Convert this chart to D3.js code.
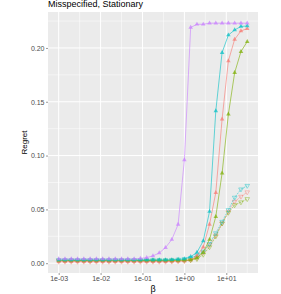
<!DOCTYPE html>
<html lang="en">
<head>
<meta charset="utf-8">
<title>Regret</title>
<script src="https://cdn.jsdelivr.net/npm/d3@7"></script>
<style>
  body { margin: 0; background: #fff; }
  text { font-family: "Liberation Sans", Arial, sans-serif; }
</style>
</head>
<body>
<script>
// beta grid: 31 log-spaced points, 1e-03 .. ~31.6
var betaExp = d3.range(31).map(function(i){ return -3 + 0.15 * i; });
var beta = betaExp.map(function(e){ return Math.pow(10, e); });

// solid curves (filled up triangles)
var redHi = [0.0015,0.0015,0.0015,0.0015,0.0015,0.0015,0.0015,0.0015,0.0015,0.0015,0.0015,0.0015,0.0015,0.0015,0.0015,0.0015,0.0015,0.0015,0.0016,0.0018,0.002,0.003,0.007,0.015,0.036,0.0656,0.1338,0.188,0.208,0.2158,0.218];
var greenHi = [0.0025,0.0025,0.0025,0.0025,0.0025,0.0025,0.0025,0.0025,0.0025,0.0025,0.0025,0.0025,0.0025,0.0025,0.0025,0.0025,0.0025,0.0025,0.0025,0.0026,0.0027,0.003,0.005,0.01,0.022,0.0433,0.0836,0.1384,0.177,0.1966,0.2059];
var cyanHi = [0.003,0.003,0.003,0.003,0.003,0.003,0.003,0.003,0.003,0.003,0.003,0.003,0.003,0.003,0.003,0.003,0.003,0.003,0.0032,0.0035,0.004,0.006,0.01,0.0207,0.048,0.1415,0.1957,0.212,0.2167,0.22,0.2204];
var purpleHi = [0.004,0.004,0.004,0.004,0.004,0.004,0.004,0.004,0.004,0.004,0.004,0.004,0.004,0.0045,0.0052,0.0068,0.0095,0.0145,0.022,0.036,0.096,0.219,0.222,0.222,0.223,0.223,0.223,0.223,0.223,0.223,0.223];

// lower curves (open down triangles)
var redLo = [0.0015,0.0015,0.0015,0.0015,0.0015,0.0015,0.0015,0.0015,0.0015,0.0015,0.0015,0.0015,0.0015,0.0015,0.0015,0.0015,0.0015,0.0015,0.0016,0.0018,0.002,0.003,0.005,0.01,0.017,0.026,0.037,0.048,0.0572,0.0619,0.066];
var greenLo = [0.0025,0.0025,0.0025,0.0025,0.0025,0.0025,0.0025,0.0025,0.0025,0.0025,0.0025,0.0025,0.0025,0.0025,0.0025,0.0025,0.0025,0.0025,0.0025,0.0026,0.0027,0.003,0.004,0.008,0.015,0.025,0.037,0.047,0.054,0.0567,0.0597];
var cyanLo = [0.003,0.003,0.003,0.003,0.003,0.003,0.003,0.003,0.003,0.003,0.003,0.003,0.003,0.003,0.003,0.003,0.003,0.003,0.0032,0.0035,0.004,0.005,0.007,0.011,0.018,0.028,0.0386,0.0495,0.061,0.0687,0.072];

var xTicks = [1e-3, 1e-2, 1e-1, 1e0, 1e1];
var xTickLabels = ["1e-03", "1e-02", "1e-01", "1e+00", "1e+01"];
var yTicks = [0, 0.05, 0.10, 0.15, 0.20];

var series = [
  {name: "red lo", col: "#F8766D", vals: redLo, lo: true},
  {name: "green lo", col: "#7CAE00", vals: greenLo, lo: true},
  {name: "cyan lo", col: "#00BFC4", vals: cyanLo, lo: true},
  {name: "red hi", col: "#F8766D", vals: redHi, lo: false},
  {name: "green hi", col: "#7CAE00", vals: greenHi, lo: false},
  {name: "cyan hi", col: "#00BFC4", vals: cyanHi, lo: false},
  {name: "purple hi", col: "#C77CFF", vals: purpleHi, lo: false}
];

var W = 281, H = 294;
// panel edges (don't use "top", it's window.top)
var pL = 48, pR = 258, pT = 12, pB = 273;

var svg = d3.select("body").append("svg")
            .attr("width", W)
            .attr("height", H);

var x = d3.scaleLog().domain([Math.pow(10, -3.255), Math.pow(10, 1.757)]).range([pL, pR]);
var y = d3.scaleLinear().domain([-0.0091, 0.2334]).range([pB, pT]);

// panel
svg.append("rect")
   .attr("x", pL).attr("y", pT)
   .attr("width", pR - pL).attr("height", pB - pT)
   .attr("fill", "#EBEBEB");

// minor grid
var xMinor = [-2.5, -1.5, -0.5, 0.5, 1.5].map(function(e){ return Math.pow(10, e); });
var yMinor = [0.025, 0.075, 0.125, 0.175, 0.225];
svg.selectAll("line.xmin").data(xMinor).enter().append("line")
   .attr("x1", function(d){ return x(d); }).attr("x2", function(d){ return x(d); })
   .attr("y1", pT).attr("y2", pB)
   .attr("stroke", "#fff").attr("stroke-width", 0.5);
svg.selectAll("line.ymin").data(yMinor).enter().append("line")
   .attr("y1", function(d){ return y(d); }).attr("y2", function(d){ return y(d); })
   .attr("x1", pL).attr("x2", pR)
   .attr("stroke", "#fff").attr("stroke-width", 0.5);

// major grid
svg.selectAll("line.xmaj").data(xTicks).enter().append("line")
   .attr("x1", function(d){ return x(d); }).attr("x2", function(d){ return x(d); })
   .attr("y1", pT).attr("y2", pB)
   .attr("stroke", "#fff").attr("stroke-width", 1);
svg.selectAll("line.ymaj").data(yTicks).enter().append("line")
   .attr("y1", function(d){ return y(d); }).attr("y2", function(d){ return y(d); })
   .attr("x1", pL).attr("x2", pR)
   .attr("stroke", "#fff").attr("stroke-width", 1);

// axes
var xAxis = d3.axisBottom(x).tickValues(xTicks)
              .tickFormat(function(d, i){ return xTickLabels[i]; })
              .tickSize(2).tickPadding(1.5);
var yAxis = d3.axisLeft(y).tickValues(yTicks)
              .tickFormat(d3.format(".2f"))
              .tickSize(2).tickPadding(1.5);

var gx = svg.append("g").attr("transform", "translate(0," + pB + ")").call(xAxis);
var gy = svg.append("g").attr("transform", "translate(" + pL + ",0)").call(yAxis);
[gx, gy].forEach(function(g){
  g.select(".domain").remove();
  g.selectAll(".tick line").attr("stroke", "#333").attr("stroke-width", 0.5);
  g.selectAll(".tick text").attr("fill", "#4D4D4D")
   .style("font-size", "7px").style("font-family", "Liberation Sans, Arial, sans-serif");
});

// lines + points
var line = d3.line()
             .x(function(d){ return x(d[0]); })
             .y(function(d){ return y(d[1]); });

var tri = d3.symbol().type(d3.symbolTriangle).size(9);

series.forEach(function(s){
  var pts = beta.map(function(b, i){ return [b, s.vals[i]]; });
  svg.append("path")
     .datum(pts)
     .attr("d", line)
     .attr("fill", "none")
     .attr("stroke", s.col)
     .attr("stroke-width", 0.6)
     .attr("stroke-dasharray", s.lo ? "2,1" : null)
     .attr("opacity", s.lo ? 0.85 : 1);

  svg.append("g").selectAll("path")
     .data(pts).enter().append("path")
     .attr("d", tri())
     .attr("transform", function(d){
       return "translate(" + x(d[0]) + "," + y(d[1]) + ")" + (s.lo ? " rotate(180)" : "");
     })
     .attr("fill", s.lo ? "none" : s.col)
     .attr("stroke", s.col)
     .attr("stroke-width", s.lo ? 0.6 : 0)
     .attr("opacity", 0.7);
});

// titles
svg.append("text")
   .attr("x", pL).attr("y", 7)
   .attr("fill", "#000")
   .style("font-size", "9px")
   .text("Misspecified, Stationary");

svg.append("text")
   .attr("transform", "translate(27," + ((pT + pB) / 2) + ") rotate(-90)")
   .attr("text-anchor", "middle")
   .attr("fill", "#000")
   .style("font-size", "8px")
   .text("Regret");

svg.append("text")
   .attr("x", (pL + pR) / 2).attr("y", 292)
   .attr("text-anchor", "middle")
   .attr("fill", "#000")
   .style("font-size", "9px")
   .text("β");
</script>
</body>
</html>
